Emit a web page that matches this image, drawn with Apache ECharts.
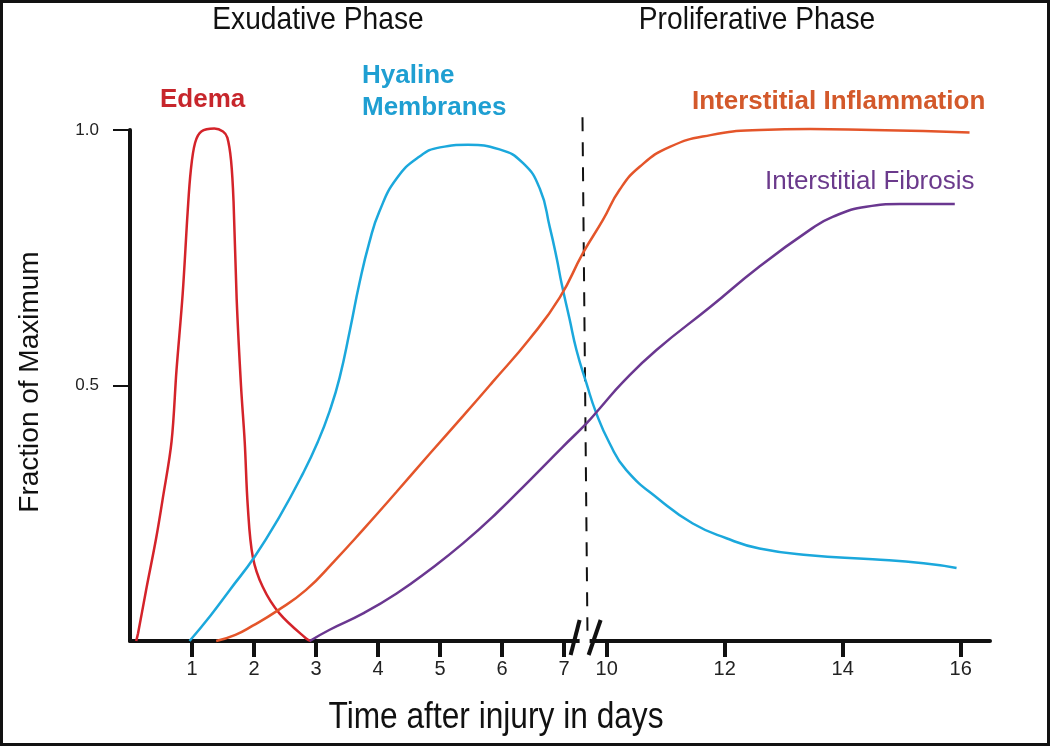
<!DOCTYPE html>
<html>
<head>
<meta charset="utf-8">
<script src="https://cdn.jsdelivr.net/npm/echarts@6/dist/echarts.min.js"></script>
<style>
html,body{margin:0;padding:0;background:#fff;}
#chart{width:1050px;height:746px;}
</style>
</head>
<body>
<div id="chart"></div>
<script>
// ---- data (x in days after injury, y as fraction of maximum) ----
const xTickDays = [1, 2, 3, 4, 5, 6, 7, 10, 12, 14, 16];
const yTickValues = [0.5, 1.0];

const edemaDays = [0.10, 0.13, 0.26, 0.42, 0.53, 0.67, 0.75, 0.85, 0.93, 0.98, 1.05, 1.15, 1.36, 1.50, 1.57, 1.63, 1.67, 1.72, 1.79, 1.85, 1.90, 1.98, 2.14, 2.41, 2.84, 2.92];
const edemaVals = [0, 0.015, 0.10, 0.20, 0.28, 0.39, 0.53, 0.68, 0.84, 0.92, 0.975, 0.997, 1.003, 0.997, 0.985, 0.94, 0.86, 0.67, 0.50, 0.39, 0.263, 0.165, 0.106, 0.054, 0.005, 0];

const hyalineDays = [0.96, 1.30, 1.61, 2.01, 2.41, 2.79, 3.03, 3.22, 3.38, 3.55, 3.70, 3.86, 4.02, 4.30, 4.67, 5.00, 5.45, 5.96, 6.34, 6.61, 6.77, 6.88, 6.96, 7.39, 7.87, 8.57, 9.27, 10.05, 10.33, 10.90, 11.46, 12.03, 12.59, 13.44, 14.51, 15.37, 15.93];
const hyalineVals = [0, 0.05, 0.10, 0.165, 0.243, 0.328, 0.39, 0.45, 0.515, 0.61, 0.70, 0.78, 0.84, 0.905, 0.948, 0.966, 0.971, 0.962, 0.935, 0.885, 0.81, 0.75, 0.70, 0.63, 0.57, 0.505, 0.446, 0.387, 0.335, 0.276, 0.23, 0.201, 0.181, 0.168, 0.16, 0.152, 0.143];

const inflamDays = [1.39, 1.70, 1.98, 2.36, 2.84, 3.30, 3.76, 4.30, 4.83, 5.37, 5.85, 6.45, 6.93, 8.33, 9.74, 10.22, 10.56, 11.07, 11.76, 12.59, 13.45, 14.51, 15.37, 16.15];
const inflamVals = [0, 0.012, 0.03, 0.058, 0.10, 0.157, 0.218, 0.292, 0.366, 0.44, 0.507, 0.592, 0.672, 0.759, 0.824, 0.883, 0.928, 0.967, 0.99, 1.0, 1.002, 1.0, 0.998, 0.995];

const fibDays = [2.90, 3.22, 3.76, 4.30, 4.83, 5.37, 5.91, 6.45, 6.98, 8.58, 9.51, 10.28, 10.84, 11.76, 12.59, 13.45, 13.83, 14.40, 14.97, 15.90];
const fibVals = [0, 0.022, 0.054, 0.093, 0.139, 0.191, 0.25, 0.315, 0.38, 0.426, 0.455, 0.507, 0.569, 0.654, 0.733, 0.805, 0.83, 0.85, 0.855, 0.855];

// phase separator (dashed)
const dashDays = [8.30, 8.65];
const dashVals = [1.025, 0.02];
const breakDay = 8.45;

// ---- broken time axis: days 7..10 compressed ----
function toU(d) {
  if (d <= 7) return d;
  if (d <= 10) return 7 + (d - 7) * 0.229;
  return 7.687 + (d - 10) * 0.9517;
}
function fromU(u) {
  if (u <= 7.0001) return u;
  if (u <= 7.6871) return 7 + (u - 7) / 0.229;
  return 10 + (u - 7.687) / 0.9517;
}
function pts(days, vals) { return days.map((d, i) => [toU(d), vals[i]]); }
const xTickU = xTickDays.map(toU);

const C_RED = '#d4232a', C_CYAN = '#1ba8dc', C_ORANGE = '#e4552a', C_PURPLE = '#6a3790';
const AXIS = '#111';
const NARROW = '"Liberation Sans Narrow", "Liberation Sans", Arial, sans-serif';
const SANS = '"Liberation Sans", Arial, sans-serif';

const chart = echarts.init(document.getElementById('chart'), null, {renderer: 'canvas'});

function lineSeries(name, data, color, smooth) {
  return {
    name, type: 'line', data, smooth: smooth, showSymbol: false, clip: false,
    lineStyle: {color, width: 2.5}, itemStyle: {color}, z: 3, animation: false
  };
}

chart.setOption({
  animation: false,
  backgroundColor: '#fff',
  grid: {left: 130, right: 60, top: 130, bottom: 105, containLabel: false},
  xAxis: {
    type: 'value', min: 0, max: 13.87,
    splitLine: {show: false},
    axisLine: {show: true, lineStyle: {color: AXIS, width: 4}},
    axisTick: {show: true, customValues: xTickU, length: 16, lineStyle: {color: AXIS, width: 4}},
    axisLabel: {
      show: true, customValues: xTickU, margin: 18,
      fontFamily: NARROW, fontSize: 20, color: '#222',
      formatter: v => String(Math.round(fromU(v)))
    }
  },
  yAxis: {
    type: 'value', min: 0, max: 1,
    splitLine: {show: false},
    axisLine: {show: true, onZero: false, lineStyle: {color: AXIS, width: 4}},
    axisTick: {show: true, customValues: yTickValues, length: 17, lineStyle: {color: AXIS, width: 2}},
    axisLabel: {
      show: true, customValues: yTickValues, margin: 31,
      fontFamily: SANS, fontSize: 17, color: '#222',
      formatter: v => v.toFixed(1)
    }
  },
  series: [
    lineSeries('Edema', pts(edemaDays, edemaVals), C_RED, 0.35),
    lineSeries('Hyaline Membranes', pts(hyalineDays, hyalineVals), C_CYAN, 0.5),
    lineSeries('Interstitial Inflammation', pts(inflamDays, inflamVals), C_ORANGE, 0.5),
    lineSeries('Interstitial Fibrosis', pts(fibDays, fibVals), C_PURPLE, 0.5),
    {
      name: 'phase', type: 'line', data: pts(dashDays, dashVals), showSymbol: false, clip: false,
      lineStyle: {color: '#111', width: 2, type: [14, 11]}, z: 2, animation: false, silent: true
    }
  ]
});

// decorations: axis-break marks, titles, series labels, frame
const b = chart.convertToPixel({gridIndex: 0}, [toU(breakDay), 0]);
const cx = b[0], cy = b[1];
const graphics = [
  {type: 'rect', shape: {x: cx - 5, y: cy - 4, width: 10, height: 8}, style: {fill: '#fff'}, z: 10},
  {type: 'line', shape: {x1: cx - 14, y1: cy + 14, x2: cx - 5, y2: cy - 21}, style: {stroke: '#111', lineWidth: 4}, z: 11},
  {type: 'line', shape: {x1: cx + 4, y1: cy + 14, x2: cx + 16, y2: cy - 21}, style: {stroke: '#111', lineWidth: 4}, z: 11},
  // phase titles
  {type: 'text', x: 318, y: 20, scaleX: 0.88, z: 10,
   style: {text: 'Exudative Phase', font: '32px ' + SANS, fill: '#111', textAlign: 'center', textVerticalAlign: 'middle'}},
  {type: 'text', x: 757, y: 20, scaleX: 0.88, z: 10,
   style: {text: 'Proliferative Phase', font: '32px ' + SANS, fill: '#111', textAlign: 'center', textVerticalAlign: 'middle'}},
  // axis titles
  {type: 'text', x: 496, y: 718, scaleX: 0.88, z: 10,
   style: {text: 'Time after injury in days', font: '36px ' + SANS, fill: '#111', textAlign: 'center', textVerticalAlign: 'middle'}},
  {type: 'text', x: 30, y: 382, rotation: Math.PI / 2, z: 10,
   style: {text: 'Fraction of Maximum', font: '28px ' + SANS, fill: '#111', textAlign: 'center', textVerticalAlign: 'middle'}},
  // series labels
  {type: 'text', x: 160, y: 100, z: 10,
   style: {text: 'Edema', font: 'bold 26px ' + SANS, fill: '#c7262c', textAlign: 'left', textVerticalAlign: 'middle'}},
  {type: 'text', x: 362, y: 76, z: 10,
   style: {text: 'Hyaline', font: 'bold 26px ' + SANS, fill: '#1f9fd2', textAlign: 'left', textVerticalAlign: 'middle'}},
  {type: 'text', x: 362, y: 108, z: 10,
   style: {text: 'Membranes', font: 'bold 26px ' + SANS, fill: '#1f9fd2', textAlign: 'left', textVerticalAlign: 'middle'}},
  {type: 'text', x: 692, y: 102, z: 10,
   style: {text: 'Interstitial Inflammation', font: 'bold 26px ' + SANS, fill: '#d3592b', textAlign: 'left', textVerticalAlign: 'middle'}},
  {type: 'text', x: 765, y: 182, z: 10,
   style: {text: 'Interstitial Fibrosis', font: '26px ' + SANS, fill: '#6b3a8c', textAlign: 'left', textVerticalAlign: 'middle'}},
  // frame
  {type: 'rect', shape: {x: 1.5, y: 1.5, width: 1047, height: 743}, style: {fill: 'none', stroke: '#111', lineWidth: 3}, z: 20}
];
chart.setOption({graphic: graphics});
</script>
</body>
</html>
